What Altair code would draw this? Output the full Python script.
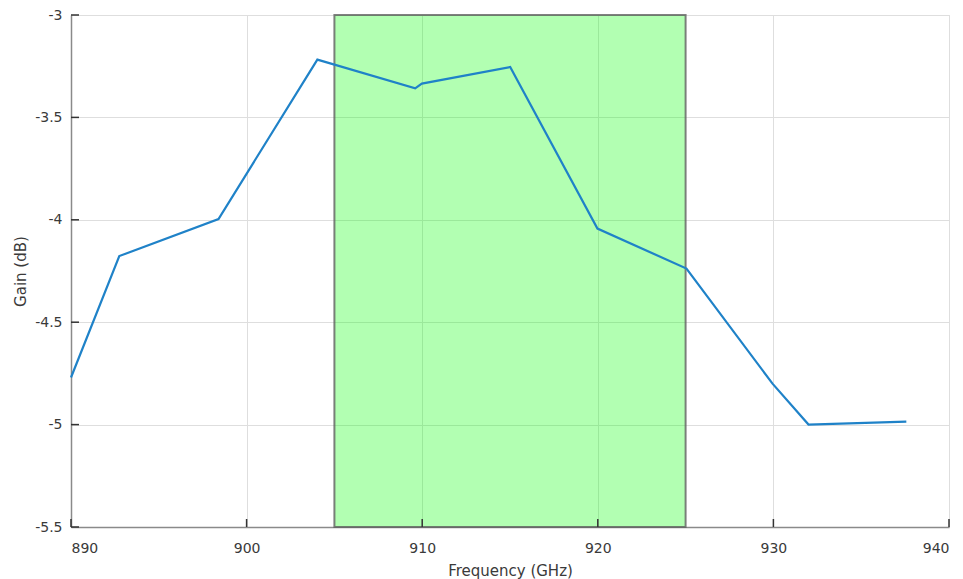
import altair as alt
import pandas as pd

# Measured gain response
freq_ghz = [890.0, 892.75, 898.4, 904.03, 909.6, 909.98, 915.01, 919.98, 925.05, 929.95, 932.0, 937.57]
gain_db = [-4.77, -4.177, -3.996, -3.218, -3.358, -3.335, -3.254, -4.043, -4.238, -4.80, -5.0, -4.985]

# Highlighted pass band
band_start = [905]
band_end = [925]

x_ticks = [890, 900, 910, 920, 930, 940]
y_ticks = [-5.5, -5, -4.5, -4, -3.5, -3]

W, H = 878, 512
FONT = "DejaVu Sans"
TEXT = "#3a3a3a"

curve = pd.DataFrame({"freq": freq_ghz, "gain": gain_db})
band = pd.DataFrame({"start": band_start, "end": band_end, "lo": [-5.5], "hi": [-3.0]})
xt = pd.DataFrame({"t": x_ticks})
yt = pd.DataFrame({"t": y_ticks})

x_scale = alt.Scale(domain=[890, 940], nice=False, zero=False)
y_scale = alt.Scale(domain=[-5.5, -3], nice=False, zero=False)

x_axis = alt.Axis(
    values=x_ticks, ticks=False, labelPadding=14, labelFontSize=14, labelFont=FONT,
    labelColor=TEXT, labelExpr="'' + datum.value",
    title="Frequency (GHz)", titleFont=FONT, titleFontSize=15,
    titleFontWeight="normal", titleColor=TEXT, titleX=439, titleY=48,
    titleBaseline="alphabetic", titleAlign="center",
    domainColor="#8a8a8a", domainWidth=1.5, gridColor="#dedede", gridWidth=1,
)
y_axis = alt.Axis(
    values=y_ticks, ticks=False, labelPadding=9, labelFontSize=14, labelFont=FONT,
    labelColor=TEXT, labelBaseline="middle", labelExpr="'' + datum.value",
    title="Gain (dB)", titleFont=FONT,
    titleFontSize=15, titleFontWeight="normal", titleColor=TEXT, titleAngle=270,
    titleX=-46, titleY=256, titleBaseline="alphabetic", titleAlign="center",
    domainColor="#8a8a8a", domainWidth=1.5, gridColor="#dedede", gridWidth=1,
)

band_layer = alt.Chart(band).mark_rect(
    fill="#00ff00", fillOpacity=0.3, stroke="#606060", strokeOpacity=0.8, strokeWidth=2
).encode(
    x=alt.X("start:Q", scale=x_scale, axis=x_axis),
    x2="end:Q",
    y=alt.Y("lo:Q", scale=y_scale, axis=y_axis),
    y2="hi:Q",
)

line_layer = alt.Chart(curve).mark_line(color="#1f82c8", strokeWidth=2.2).encode(
    x=alt.X("freq:Q", scale=x_scale),
    y=alt.Y("gain:Q", scale=y_scale),
)

# Inward-pointing tick marks on the bottom and left axes
x_tick_layer = alt.Chart(xt).mark_rule(color="#333333", strokeWidth=1.5).encode(
    x=alt.X("t:Q", scale=x_scale),
    y=alt.value(H),
    y2=alt.value(H - 8),
)
y_tick_layer = alt.Chart(yt).mark_rule(color="#333333", strokeWidth=1.5).encode(
    y=alt.Y("t:Q", scale=y_scale),
    x=alt.value(0),
    x2=alt.value(8),
)

chart = (
    alt.layer(band_layer, line_layer, x_tick_layer, y_tick_layer)
    .properties(
        width=W,
        height=H,
        autosize=alt.AutoSizeParams(type="none"),
        padding={"left": 71, "top": 15, "right": 14, "bottom": 52},
    )
    .configure_view(stroke=None)
    .configure(background="white")
)

chart.save("out.html", embed_options={"renderer": "svg", "actions": False})
